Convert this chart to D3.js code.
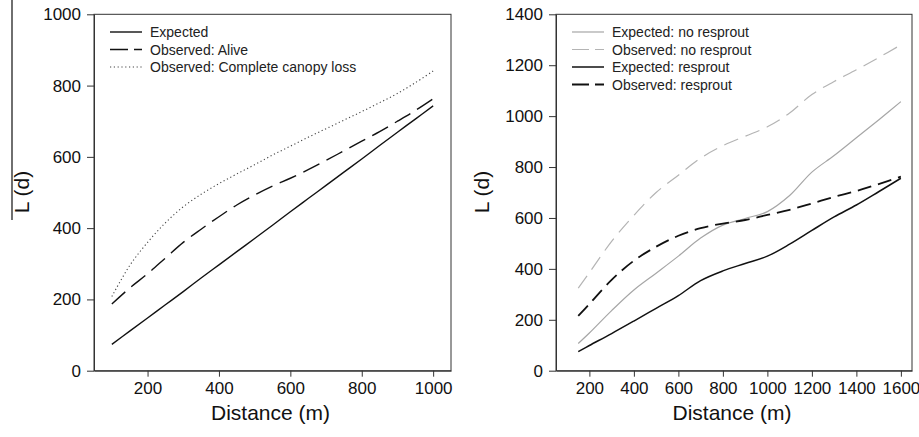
<!DOCTYPE html>
<html>
<head>
<meta charset="utf-8">
<script src="https://cdn.jsdelivr.net/npm/d3@7"></script>
<style>
  body { margin: 0; background: #fff; }
  svg { font-family: "Liberation Sans", Arial, sans-serif; }
</style>
</head>
<body>
<svg id="chart" width="919" height="437"></svg>
<script>
// left panel: canopy damage
const distA = [100, 150, 200, 250, 300, 350, 400, 450, 500, 550, 600, 650, 700, 750, 800, 850, 900, 950, 1000];
const expectedA = [74, 111, 148, 185, 222, 260, 297, 334, 371, 408, 446, 483, 520, 557, 594, 632, 669, 706, 743];
const aliveA = [187, 232, 272, 316, 360, 397, 432, 465, 493, 518, 540, 564, 590, 617, 644, 671, 700, 730, 763];
const canopyA = [208, 295, 360, 415, 460, 495, 525, 552, 578, 605, 630, 655, 679, 703, 727, 752, 778, 808, 841];

// right panel: resprouting
const distB = [150, 200, 300, 400, 500, 600, 700, 800, 900, 1000, 1100, 1200, 1300, 1400, 1500, 1600];
const expNoResprout = [107, 148, 236, 317, 383, 450, 521, 572, 598, 625, 688, 780, 845, 915, 985, 1057];
const obsNoResprout = [324, 385, 508, 610, 700, 768, 835, 884, 921, 958, 1012, 1085, 1136, 1182, 1230, 1280];
const expResprout = [75, 99, 146, 195, 245, 295, 354, 392, 421, 450, 497, 551, 604, 651, 703, 756];
const obsResprout = [215, 262, 357, 432, 487, 530, 560, 578, 592, 612, 632, 657, 683, 706, 733, 762];

const ticksA = [200, 400, 600, 800, 1000];
const ticksB = [200, 400, 600, 800, 1000, 1200, 1400, 1600];
const yTicksA = [0, 200, 400, 600, 800, 1000];
const yTicksB = [0, 200, 400, 600, 800, 1000, 1200, 1400];

const svg = d3.select("#chart");

function drawPanel(cfg) {
  const x = d3.scaleLinear().domain(cfg.xDomain).range([cfg.left, cfg.right]);
  const y = d3.scaleLinear().domain(cfg.yDomain).range([370.7, 14.3]);
  const g = svg.append("g");

  // frame
  g.append("rect").attr("x", cfg.left).attr("y", 14.3)
    .attr("width", cfg.right - cfg.left).attr("height", 370.7 - 14.3)
    .attr("fill", "none").attr("stroke", "#333").attr("stroke-width", 1);

  const xAxis = g.append("g").attr("transform", "translate(0,370.7)")
    .call(d3.axisBottom(x).tickValues(cfg.xTicks).tickFormat(d3.format("d")).tickSize(6).tickPadding(5).tickSizeOuter(0));
  const yAxis = g.append("g").attr("transform", `translate(${cfg.left},0)`)
    .call(d3.axisLeft(y).tickValues(cfg.yTicks).tickFormat(d3.format("d")).tickSize(7).tickPadding(6).tickSizeOuter(0));
  [xAxis, yAxis].forEach(a => {
    a.select(".domain").attr("stroke", "#333");
    a.selectAll(".tick line").attr("stroke", "#333");
    a.selectAll(".tick text").attr("font-size", 17).attr("fill", "#111").attr("font-family", "Liberation Sans, Arial");
  });

  const line = d3.line().x(d => x(d[0])).y(d => y(d[1])).curve(d3.curveCatmullRom.alpha(0.5));
  cfg.series.forEach(s => {
    g.append("path").datum(s.xs.map((v, i) => [v, s.ys[i]]))
      .attr("d", line).attr("fill", "none")
      .attr("stroke", s.color).attr("stroke-width", s.width)
      .attr("stroke-dasharray", s.dash || null);
  });

  // legend
  cfg.series.forEach((s, i) => {
    const ly = 32 + i * 17.5;
    g.append("line").attr("x1", cfg.legX).attr("x2", cfg.legX + 32).attr("y1", ly).attr("y2", ly)
      .attr("stroke", s.color).attr("stroke-width", s.width)
      .attr("stroke-dasharray", s.legDash || s.dash || null);
    g.append("text").attr("x", cfg.legX + 40).attr("y", ly + 5)
      .attr("font-size", 14).attr("fill", "#222").text(s.name);
  });

  // axis titles
  g.append("text").attr("x", (cfg.left + cfg.right) / 2 - 2).attr("y", 420)
    .attr("text-anchor", "middle").attr("font-size", 21).attr("fill", "#111").text("Distance (m)");
  g.append("text").attr("transform", `translate(${cfg.labelX},192) rotate(-90)`)
    .attr("text-anchor", "middle").attr("font-size", 21).attr("fill", "#111").text("L (d)");
}

drawPanel({
  left: 94, right: 451, xDomain: [50, 1050], yDomain: [0, 1000],
  xTicks: ticksA, yTicks: yTicksA, legX: 110, labelX: 29,
  series: [
    { name: "Expected", xs: distA, ys: expectedA, color: "#111", width: 1.4 },
    { name: "Observed: Alive", xs: distA, ys: aliveA, color: "#111", width: 1.4, dash: "18,8", legDash: "18,6,8,0" },
    { name: "Observed: Complete canopy loss", xs: distA, ys: canopyA, color: "#444", width: 1.1, dash: "1.2,2.6" }
  ]
});

drawPanel({
  left: 556, right: 912, xDomain: [50, 1650], yDomain: [0, 1400],
  xTicks: ticksB, yTicks: yTicksB, legX: 572, labelX: 489,
  series: [
    { name: "Expected: no resprout", xs: distB, ys: expNoResprout, color: "#a6a6a6", width: 1.2 },
    { name: "Observed: no resprout", xs: distB, ys: obsNoResprout, color: "#b4b4b4", width: 1.2, dash: "15,8", legDash: "17,6,9,0" },
    { name: "Expected: resprout", xs: distB, ys: expResprout, color: "#111", width: 1.5 },
    { name: "Observed: resprout", xs: distB, ys: obsResprout, color: "#111", width: 1.8, dash: "14,7", legDash: "17,6,9,0" }
  ]
});

// overbar of the left y label, drawn long in the source figure
svg.append("line").attr("x1", 12).attr("x2", 12).attr("y1", 0).attr("y2", 220)
  .attr("stroke", "#222").attr("stroke-width", 1.3);
</script>
</body>
</html>
